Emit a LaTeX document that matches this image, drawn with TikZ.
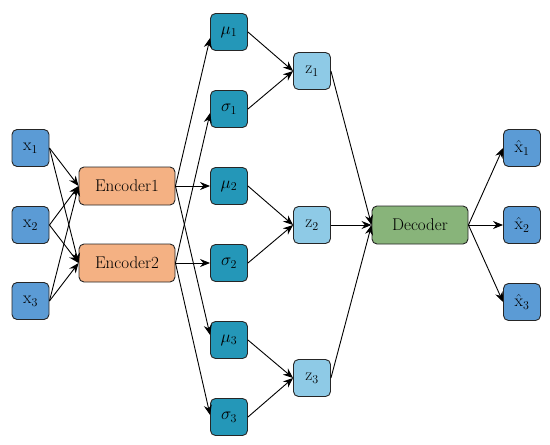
\documentclass[tikz,border=0pt]{standalone}
\usetikzlibrary{arrows.meta,calc}
\definecolor{xblue}{HTML}{5B9BD5}
\definecolor{encor}{HTML}{F4B183}
\definecolor{teal1}{HTML}{2497B8}
\definecolor{zblue}{HTML}{8ECAE6}
\definecolor{decgr}{HTML}{88B47A}
\begin{document}
\begin{tikzpicture}[x=1pt,y=-1pt,
  box/.style={draw=black!85,line width=0.9pt,rounded corners=5pt,inner sep=0pt,font=\fontsize{17}{19}\selectfont},
  sq/.style={box,minimum width=37pt,minimum height=37pt},
  wide/.style={box,minimum width=96pt,minimum height=38pt},
  xin/.style={sq,fill=xblue},
  lat/.style={sq,fill=teal1},
  zz/.style={sq,fill=zblue},
  enc/.style={wide,fill=encor},
  dec/.style={wide,fill=decgr},
  arr/.style={-{Stealth[length=10pt,width=8pt]},line width=0.9pt,black}]
\useasboundingbox (0,0) rectangle (550,445);
\node[xin] (x1) at (30.5,148) {$\mathrm{x}_1$};
\node[xin] (x2) at (30.5,225) {$\mathrm{x}_2$};
\node[xin] (x3) at (30.5,301) {$\mathrm{x}_3$};
\node[enc] (e1) at (127,186) {Encoder1};
\node[enc] (e2) at (127,263) {Encoder2};
\node[lat] (m1) at (229,32) {$\mu_1$};
\node[lat] (s1) at (229,109) {$\sigma_1$};
\node[lat] (m2) at (229,186) {$\mu_2$};
\node[lat] (s2) at (229,263) {$\sigma_2$};
\node[lat] (m3) at (229,340) {$\mu_3$};
\node[lat] (s3) at (229,417) {$\sigma_3$};
\node[zz] (z1) at (312,71) {$\mathrm{z}_1$};
\node[zz] (z2) at (312,225) {$\mathrm{z}_2$};
\node[zz] (z3) at (312,378) {$\mathrm{z}_3$};
\node[dec] (d) at (420,225) {Decoder};
\node[xin] (h1) at (522,148) {$\hat{\mathrm{x}}_1$};
\node[xin] (h2) at (522,225) {$\hat{\mathrm{x}}_2$};
\node[xin] (h3) at (522,302) {$\hat{\mathrm{x}}_3$};
\foreach \i in {x1,x2,x3}{
  \draw[arr] (\i.east) -- (e1.west);
  \draw[arr] (\i.east) -- (e2.west);
}
\draw[arr] (e1.east) -- ($(m1.west)+(0,6)$);
\draw[arr] (e1.east) -- (m2.west);
\draw[arr] (e1.east) -- ($(m3.west)+(0,-5)$);
\draw[arr] (e2.east) -- ($(s1.west)+(0,4)$);
\draw[arr] (e2.east) -- (s2.west);
\draw[arr] (e2.east) -- ($(s3.west)+(0,-2)$);
\foreach \k in {1,2,3}{
  \draw[arr] (m\k.east) -- (z\k.west);
  \draw[arr] (s\k.east) -- (z\k.west);
  \draw[arr] (z\k.east) -- (d.west);
  \draw[arr] (d.east) -- (h\k.west);
}
\end{tikzpicture}
\end{document}
